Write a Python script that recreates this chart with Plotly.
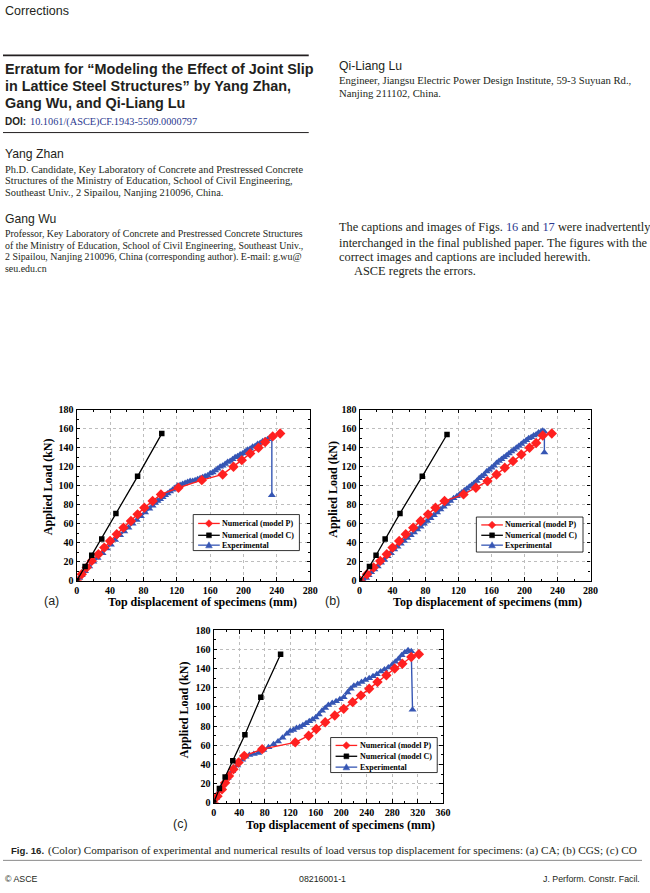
import plotly.graph_objects as go

W, H = 650, 893

# ---------------- data ----------------
# Panel (a) CA
a_p_x = [0, 6, 12, 18, 26, 33, 40, 48, 56, 65, 73, 81, 91, 101, 122, 150, 175, 188, 198, 208, 218, 226, 235, 244]
a_p_y = [0, 7, 14, 21, 28, 35, 42, 49, 56, 63, 70, 77, 84, 91, 98, 106, 112, 120, 127, 134, 140, 146, 152, 155]
a_c_x = [0, 10, 18, 30, 47, 73, 102]
a_c_y = [0, 15, 27, 44, 71, 110, 155]
a_e_x = [0, 3, 6, 10, 15, 20, 25, 31, 36, 41, 46, 52, 57, 62, 67, 72, 77, 82, 87, 91, 94, 97, 100, 103, 106, 109,
         112, 115, 118, 121, 124, 127, 130, 133, 136, 139, 142, 145, 148, 151, 154, 157, 160, 163, 166, 169, 172,
         175, 178, 181, 184, 187, 190, 193, 196, 199, 202, 205, 208, 211, 214, 217, 220, 223, 226, 229, 232, 234, 234]
a_e_y = [0, 3, 6, 10, 15, 20, 24, 29, 34, 38, 43, 48, 52, 56, 60, 64, 68, 72, 76, 79, 82, 84, 86, 88, 90, 92,
         94, 96, 98, 100, 101, 102, 103, 104, 105, 105, 106, 107, 108, 109, 110, 111, 113, 114, 116, 118, 120,
         121, 123, 125, 126, 128, 130, 131, 133, 134, 136, 138, 139, 141, 142, 144, 145, 147, 148, 149, 151, 152, 90]

# Panel (b) CGS
b_p_x = [1, 9, 17, 25, 33, 40, 48, 56, 65, 74, 83, 92, 103, 126, 141, 155, 166, 176, 186, 196, 206, 214, 222, 233]
b_p_y = [0, 7, 14, 21, 28, 35, 42, 49, 56, 63, 70, 77, 84, 91, 98, 105, 112, 119, 126, 133, 140, 145, 153, 155]
b_c_x = [0, 12, 20, 31, 49, 76, 106]
b_c_y = [0, 15, 27, 44, 71, 110, 154]
b_e_x = [5, 8, 11, 14, 18, 22, 26, 30, 34, 38, 42, 46, 50, 54, 58, 62, 66, 70, 74, 78, 82, 86, 90, 94, 98, 102,
         106, 110, 114, 118, 121, 124, 127, 130, 133, 136, 139, 142, 145, 148, 151, 154, 157, 160, 163, 166, 169,
         172, 175, 178, 181, 184, 187, 190, 193, 196, 199, 202, 205, 208, 211, 214, 217, 220, 222, 224, 224]
b_e_y = [0, 3, 6, 9, 12, 15, 19, 22, 26, 29, 33, 36, 39, 42, 45, 48, 51, 54, 57, 60, 63, 66, 69, 72, 75, 78,
         81, 84, 87, 89, 91, 93, 95, 97, 99, 101, 103, 105, 108, 110, 112, 115, 117, 119, 121, 124, 126,
         128, 130, 132, 134, 136, 138, 140, 142, 144, 146, 148, 150, 151, 153, 154, 156, 157, 158, 157, 135]

# Panel (c) CO
c_p_x = [0, 6, 13, 18, 24, 31, 39, 48, 76, 128, 149, 161, 175, 190, 204, 218, 231, 244, 257, 271, 284, 296, 310, 322]
c_p_y = [0, 7, 14, 21, 28, 35, 42, 49, 56, 63, 70, 77, 84, 91, 98, 105, 112, 119, 126, 133, 140, 145, 152, 155]
c_c_x = [0, 9, 18, 30, 49, 74, 105]
c_c_y = [0, 15, 27, 44, 71, 110, 155]
c_e_x = [0, 4, 9, 15, 22, 29, 37, 45, 50, 56, 63, 70, 78, 86, 94, 101, 108, 115, 120, 125, 130, 135, 140, 145,
         150, 155, 160, 165, 170, 175, 180, 186, 192, 198, 204, 210, 215, 220, 226, 232, 238, 244, 250, 256,
         262, 268, 274, 280, 285, 290, 295, 300, 305, 310, 312]
c_e_y = [0, 5, 12, 19, 26, 33, 39, 45, 48, 50, 51, 52, 55, 58, 61, 64, 68, 72, 75, 76, 78, 79, 81, 83,
         85, 87, 89, 92, 96, 99, 102, 104, 106, 108, 110, 115, 119, 122, 124, 126, 128, 130, 132, 134,
         137, 139, 141, 144, 147, 150, 154, 157, 159, 158, 97]

series_names = ["Numerical (model P)", "Numerical (model C)", "Experimental"]
x_title = "Top displacement of specimens (mm)"
y_title = "Applied Load (kN)"
panel_labels = ["(a)", "(b)", "(c)"]

# ---------------- style ----------------
RED = "#FF2020"
BLACK = "#000000"
BLUE = "#3656B4"
SERIF = "Liberation Serif"
SANS = "Liberation Sans"
TXT = "#231F20"
LINK = "#2B3990"


def px(x):
    return x / W


def py(y):
    return 1 - y / H


fig = go.Figure()

panels = [
    dict(ax="", xdom=(75, 312.5), ydom=(409.3, 582.7), xmax=280,
         P=(a_p_x, a_p_y), C=(a_c_x, a_c_y), E=(a_e_x, a_e_y),
         leg=(193.5, 515.5, 301.5, 552), rows=(524.5, 536.5, 546.5),
         xt=(203, 604.5), yt=(46.5, 487), lab=(40, 603.5)),
    dict(ax="2", xdom=(362.7, 597.7), ydom=(409.3, 582.7), xmax=280,
         P=(b_p_x, b_p_y), C=(b_c_x, b_c_y), E=(b_e_x, b_e_y),
         leg=(481.5, 518, 590, 553.5), rows=(526, 536.5, 546.5),
         xt=(493, 604.5), yt=(336, 490), lab=(326, 603.5)),
    dict(ax="3", xdom=(214.3, 447.7), ydom=(632.7, 807.7), xmax=360,
         P=(c_p_x, c_p_y), C=(c_c_x, c_c_y), E=(c_e_x, c_e_y),
         leg=(333.3, 741.5, 441.7, 777), rows=(749.5, 760.5, 771.5),
         xt=(343, 830.5), yt=(185, 713), lab=(171, 829.5)),
]

shapes = []
annotations = []


def txt(x, y, s, size, family=SERIF, anchor="left", color=TXT, bold=False, angle=0, yanchor="middle"):
    annotations.append(dict(
        x=px(x), y=py(y), xref="paper", yref="paper", text=s, showarrow=False,
        xanchor=anchor, yanchor=yanchor, textangle=angle,
        font=dict(family=family, size=size, color=color, weight="bold" if bold else "normal"),
    ))


def hline(x0, x1, y, width, color):
    shapes.append(dict(type="line", xref="paper", yref="paper", x0=px(x0), x1=px(x1),
                       y0=py(y), y1=py(y), line=dict(color=color, width=width)))


def marker_path(kind, cx, cy, s):
    if kind == "diamond":
        pts = [(cx - s, cy), (cx, cy - s), (cx + s, cy), (cx, cy + s)]
    elif kind == "square":
        pts = [(cx - s, cy - s), (cx + s, cy - s), (cx + s, cy + s), (cx - s, cy + s)]
    else:
        pts = [(cx, cy - s), (cx + s, cy + s * 0.8), (cx - s, cy + s * 0.8)]
    d = "M " + " L ".join(f"{px(a):.5f},{py(b):.5f}" for a, b in pts) + " Z"
    return d


layout_axes = {}
for i, p in enumerate(panels):
    xa = "x" + p["ax"]
    ya = "y" + p["ax"]
    ex, ey = p["E"]
    cx_, cy_ = p["C"]
    pxs, pys = p["P"]
    fig.add_trace(go.Scatter(x=ex, y=ey, mode="lines+markers", xaxis=xa, yaxis=ya,
                             name=series_names[2], showlegend=False,
                             line=dict(color=BLUE, width=1.4),
                             marker=dict(symbol="triangle-up", size=7, color=BLUE)))
    fig.add_trace(go.Scatter(x=pxs, y=pys, mode="lines+markers", xaxis=xa, yaxis=ya,
                             name=series_names[0], showlegend=False,
                             line=dict(color=RED, width=1.4),
                             marker=dict(symbol="diamond", size=8, color=RED)))
    fig.add_trace(go.Scatter(x=cx_, y=cy_, mode="lines+markers", xaxis=xa, yaxis=ya,
                             name=series_names[1], showlegend=False,
                             line=dict(color=BLACK, width=1.3),
                             marker=dict(symbol="square", size=5.5, color=BLACK)))

    common = dict(ticks="inside", ticklen=3.5, tickwidth=1, tickcolor="black",
                  showline=True, linecolor="black", linewidth=1.3, mirror="ticks",
                  showgrid=True, gridcolor="#BDBDBD", griddash="dot", gridwidth=0.7,
                  zeroline=False, fixedrange=True,
                  tickfont=dict(family=SERIF, size=10, color="black", weight="bold"))
    layout_axes["xaxis" + p["ax"]] = dict(
        domain=[px(p["xdom"][0]), px(p["xdom"][1])], range=[0, p["xmax"]], dtick=40, tick0=0,
        anchor=ya, minor=dict(ticks="inside", ticklen=2, dtick=20, tickcolor="black", showgrid=False),
        **common)
    layout_axes["yaxis" + p["ax"]] = dict(
        domain=[py(p["ydom"][1]), py(p["ydom"][0])], range=[0, 180], dtick=20, tick0=0,
        anchor=xa, minor=dict(ticks="inside", ticklen=2, dtick=10, tickcolor="black", showgrid=False),
        **common)

    # axis titles & panel label
    txt(p["xt"][0], p["xt"][1], x_title, 12, SERIF, "center", "black", True)
    txt(p["yt"][0], p["yt"][1], y_title, 12, SERIF, "center", "black", True, angle=-90)
    txt(p["lab"][0], p["lab"][1], panel_labels[i], 12.5, SANS, "left", TXT)

    # legend box (drawn manually)
    x0, y0, x1, y1 = p["leg"]
    shapes.append(dict(type="rect", xref="paper", yref="paper", x0=px(x0), x1=px(x1),
                       y0=py(y1), y1=py(y0), line=dict(color="black", width=0.8),
                       fillcolor="white"))
    for row, col, kind, s, name in zip(p["rows"], [RED, BLACK, BLUE],
                                       ["diamond", "square", "triangle"], [3.8, 2.5, 3.4],
                                       series_names):
        hline(x0 + 5, x0 + 27, row, 1.3, col)
        shapes.append(dict(type="path", xref="paper", yref="paper",
                           path=marker_path(kind, x0 + 16, row, s),
                           fillcolor=col, line=dict(color=col, width=0.5)))
        txt(x0 + 27.5, row, name, 8.0, SERIF, "left", "black", True)

# ---------------- page text ----------------
txt(0, 5.5, "Corrections", 12.5, SANS)
hline(0, 311, 50, 1.6, "#231F20")
txt(0, 64, "Erratum for \u201cModeling the Effect of Joint Slip", 14.4, SANS, bold=True)
txt(0, 81.5, "in Lattice Steel Structures\u201d by Yang Zhan,", 14.4, SANS, bold=True)
txt(0, 98.5, "Gang Wu, and Qi-Liang Lu", 14.4, SANS, bold=True)
txt(0, 117.5, "DOI:", 10, SANS, bold=True)
txt(25, 117.5, "10.1061/(ASCE)CF.1943-5509.0000797", 10.3, SERIF, color=LINK)
hline(0, 311, 128.3, 1.0, "#231F20")

txt(0, 150, "Yang Zhan", 12.2, SANS)
yz_lines = ["Ph.D. Candidate, Key Laboratory of Concrete and Prestressed Concrete",
            "Structures of the Ministry of Education, School of Civil Engineering,",
            "Southeast Univ., 2 Sipailou, Nanjing 210096, China."]
for yy, s in zip([165.8, 177.3, 189.2], yz_lines):
    txt(0, yy, s, 10.4, SERIF)

txt(0, 215.5, "Gang Wu", 12.2, SANS)
gw_lines = ["Professor, Key Laboratory of Concrete and Prestressed Concrete Structures",
            "of the Ministry of Education, School of Civil Engineering, Southeast Univ.,",
            "2 Sipailou, Nanjing 210096, China (corresponding author). E-mail: g.wu@",
            "seu.edu.cn"]
for yy, s in zip([230.8, 242.3, 254.2, 266.2], gw_lines):
    txt(0, yy, s, 9.9, SERIF)

txt(340, 61, "Qi-Liang Lu", 12.2, SANS)
ql_lines = ["Engineer, Jiangsu Electric Power Design Institute, 59-3 Suyuan Rd.,",
            "Nanjing 211102, China."]
for yy, s in zip([75.2, 87.8], ql_lines):
    txt(340, yy, s, 10.7, SERIF)

para = ["The captions and images of Figs. <span style='color:%s'>16</span> and "
        "<span style='color:%s'>17</span> were inadvertently" % (LINK, LINK),
        "interchanged in the final published paper. The figures with the",
        "correct images and captions are included herewith."]
for yy, s in zip([224.3, 240.2, 254.2], para):
    txt(340, yy, s, 12.4, SERIF)
txt(355, 268.3, "ASCE regrets the errors.", 12.4, SERIF)

# caption
txt(6, 855.5, "Fig. 16.", 9.6, SANS, bold=True)
txt(43.5, 855.5, "(Color) Comparison of experimental and numerical results of load versus top "
                 "displacement for specimens: (a) CA; (b) CGS; (c) CO", 11.2, SERIF)
hline(0, 650, 866, 1.0, "#8A8A8A")

# footer
txt(0, 884.5, "\u00a9 ASCE", 8.8, SANS)
txt(325, 884.5, "08216001-1", 8.8, SANS, anchor="center")
txt(650, 884.5, "J. Perform. Constr. Facil.", 8.8, SANS, anchor="right")

fig.update_layout(
    width=W, height=H, margin=dict(l=0, r=0, t=0, b=0),
    paper_bgcolor="white", plot_bgcolor="white", showlegend=False,
    shapes=shapes, annotations=annotations, **layout_axes,
)

fig.write_html("out.html", config={"displayModeBar": False},
               post_script="document.body.style.margin='0px';document.body.style.overflow='hidden';")
